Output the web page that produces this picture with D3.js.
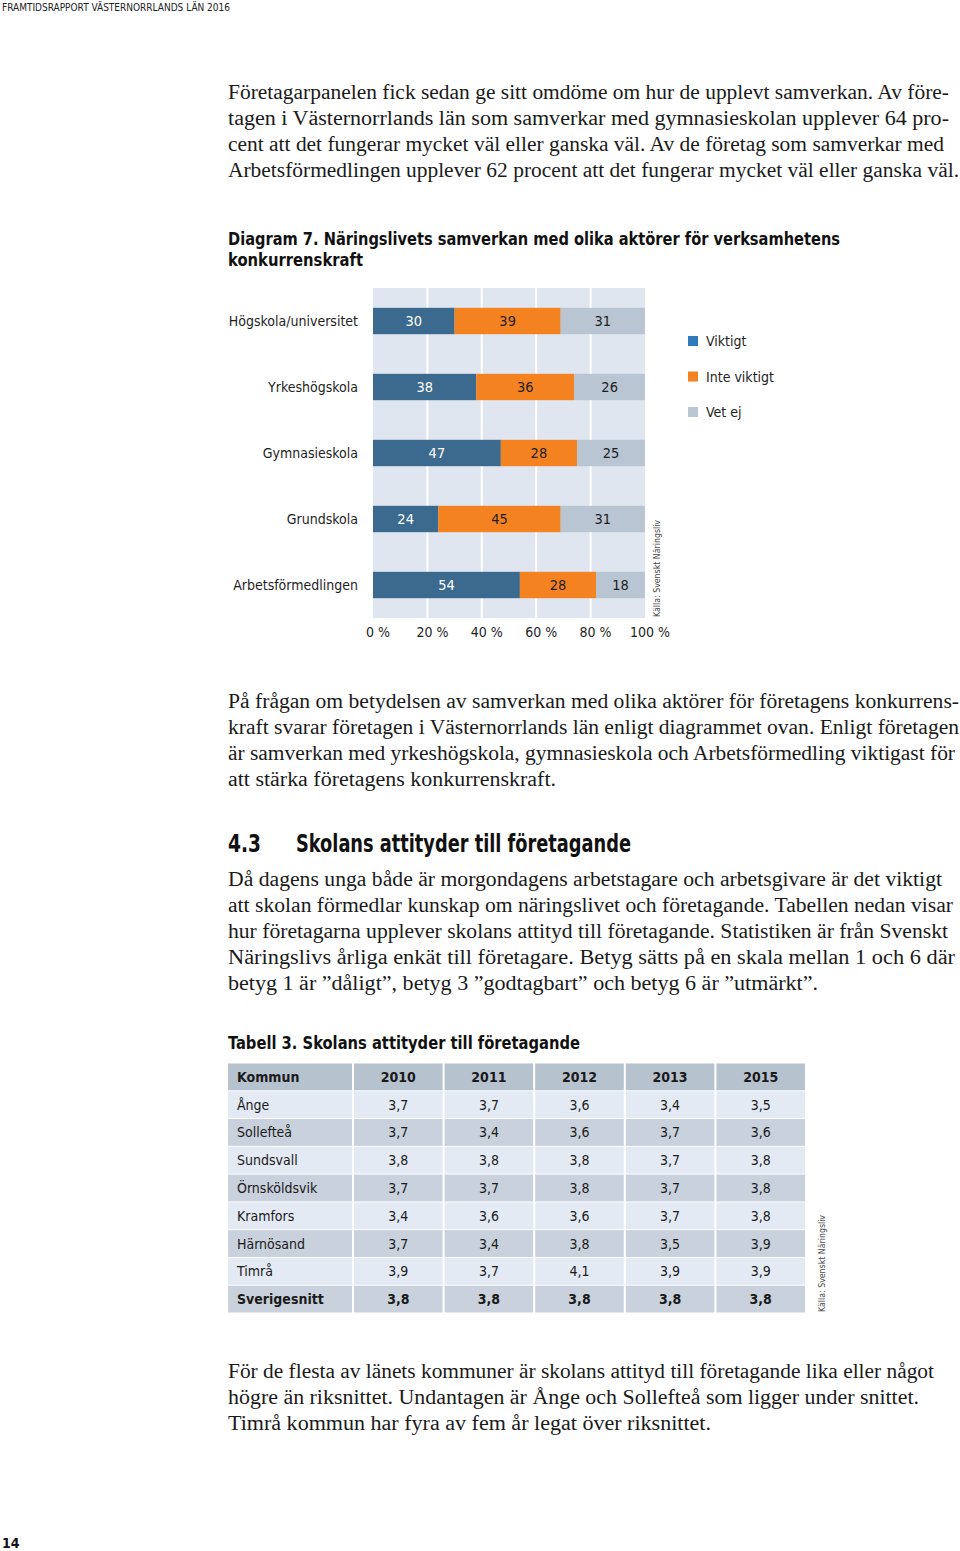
<!DOCTYPE html>
<html><head><meta charset="utf-8">
<script src="https://cdn.jsdelivr.net/npm/d3@7"></script>
<style>
body{margin:0;background:#fff;}
svg{display:block;}
.sans{font-family:"Liberation Sans Narrow","DejaVu Sans Condensed","Roboto",sans-serif;}
.serif{font-family:"Liberation Serif","DejaVu Serif",serif;}
</style></head>
<body>
<script>
// ---------- DATA ----------
const categories = ["Högskola/universitet","Yrkeshögskola","Gymnasieskola","Grundskola","Arbetsförmedlingen"];
const seriesNames = ["Viktigt","Inte viktigt","Vet ej"];
const viktigt     = [30,38,47,24,54];
const inteViktigt = [39,36,28,45,28];
const vetEj       = [31,26,25,31,18];
const xTicks = [0,20,40,60,80,100];
const tickLabels = ["0 %","20 %","40 %","60 %","80 %","100 %"];

const tableHeader = ["Kommun","2010","2011","2012","2013","2015"];
const kommuner = ["Ånge","Sollefteå","Sundsvall","Örnsköldsvik","Kramfors","Härnösand","Timrå","Sverigesnitt"];
const v2010 = ["3,7","3,7","3,8","3,7","3,4","3,7","3,9","3,8"];
const v2011 = ["3,7","3,4","3,8","3,7","3,6","3,4","3,7","3,8"];
const v2012 = ["3,6","3,6","3,8","3,8","3,6","3,8","4,1","3,8"];
const v2013 = ["3,4","3,7","3,7","3,7","3,7","3,5","3,9","3,8"];
const v2015 = ["3,5","3,6","3,8","3,8","3,8","3,9","3,9","3,8"];

const para1 = ["Företagarpanelen fick sedan ge sitt omdöme om hur de upplevt samverkan. Av före-",
"tagen i Västernorrlands län som samverkar med gymnasieskolan upplever 64 pro-",
"cent att det fungerar mycket väl eller ganska väl. Av de företag som samverkar med",
"Arbetsförmedlingen upplever 62 procent att det fungerar mycket väl eller ganska väl."];
const para2 = ["På frågan om betydelsen av samverkan med olika aktörer för företagens konkurrens-",
"kraft svarar företagen i Västernorrlands län enligt diagrammet ovan. Enligt företagen",
"är samverkan med yrkeshögskola, gymnasieskola och Arbetsförmedling viktigast för",
"att stärka företagens konkurrenskraft."];
const para3 = ["Då dagens unga både är morgondagens arbetstagare och arbetsgivare är det viktigt",
"att skolan förmedlar kunskap om näringslivet och företagande. Tabellen nedan visar",
"hur företagarna upplever skolans attityd till företagande. Statistiken är från Svenskt",
"Näringslivs årliga enkät till företagare. Betyg sätts på en skala mellan 1 och 6 där",
"betyg 1 är ”dåligt”, betyg 3 ”godtagbart” och betyg 6 är ”utmärkt”."];
const para4 = ["För de flesta av länets kommuner är skolans attityd till företagande lika eller något",
"högre än riksnittet. Undantagen är Ånge och Sollefteå som ligger under snittet.",
"Timrå kommun har fyra av fem år legat över riksnittet."];

// ---------- STYLE ----------
const barColors = ["#3b6a8e","#f48221","#b9c5d2"];
const legendColors = ["#2f7bbd","#f48221","#b9c5d2"];
const labelColors = ["#ffffff","#1e1e1e","#1e1e1e"];
const W = 960, H = 1551;

const svg = d3.select("body").append("svg").attr("width",W).attr("height",H);

// header
svg.append("text").attr("class","sans").attr("x",2).attr("y",11).attr("font-size",10.5).attr("fill","#222")
  .attr("textLength",228).attr("lengthAdjust","spacingAndGlyphs")
  .text("FRAMTIDSRAPPORT VÄSTERNORRLANDS LÄN 2016");
svg.append("text").attr("class","sans").attr("x",2).attr("y",1548).attr("font-size",14).attr("font-weight","bold").attr("fill","#111").text("14");

function paragraph(lines, y0, widths){
  const g = svg.append("g").attr("class","serif").attr("font-size",20).attr("fill","#1a1a1a");
  lines.forEach((l,i)=>{
    const t = g.append("text").attr("x",228).attr("y",y0+i*26).text(l);
    if(widths && widths[i]) t.attr("textLength",widths[i]).attr("lengthAdjust","spacingAndGlyphs");
  });
}
paragraph(para1, 99, [721,721,716,731]);
paragraph(para2, 708, [731,731,727,328]);
paragraph(para3, 886, [714,725,720,727,590]);
paragraph(para4, 1378, [706,691,483]);

// Diagram title
const tg = svg.append("g").attr("class","sans").attr("font-weight","bold").attr("font-size",18).attr("fill","#111");
tg.append("text").attr("x",228).attr("y",245).attr("textLength",612).attr("lengthAdjust","spacingAndGlyphs")
  .text("Diagram 7. Näringslivets samverkan med olika aktörer för verksamhetens");
tg.append("text").attr("x",228).attr("y",266).attr("textLength",135).attr("lengthAdjust","spacingAndGlyphs")
  .text("konkurrenskraft");

// ---------- CHART ----------
const x = d3.scaleLinear().domain([0,100]).range([373,645]);
const y = d3.scaleBand().domain(categories).range([288,618]).paddingInner(0.6).paddingOuter(0.3);

const chart = svg.append("g").attr("class","sans");
chart.append("rect").attr("x",x(0)).attr("y",288).attr("width",x(100)-x(0)).attr("height",330).attr("fill","#dfe6ef");
chart.selectAll("line.grid").data(xTicks.slice(1,-1)).join("line").attr("class","grid")
  .attr("x1",d=>x(d)).attr("x2",d=>x(d)).attr("y1",288).attr("y2",618).attr("stroke","#fff").attr("stroke-width",2);

const rows = categories.map((c,i)=>({cat:c, vals:[viktigt[i],inteViktigt[i],vetEj[i]]}));
const stack = d3.stack().keys([0,1,2]).value((d,k)=>d.vals[k]);
const stacked = stack(rows);
stacked.forEach((layer,k)=>{
  const g = chart.append("g");
  g.selectAll("rect").data(layer).join("rect")
    .attr("x",d=>x(d[0])).attr("width",d=>x(d[1])-x(d[0]))
    .attr("y",d=>y(d.data.cat)).attr("height",y.bandwidth()).attr("fill",barColors[k]);
  g.selectAll("text").data(layer).join("text")
    .attr("x",d=>(x(d[0])+x(d[1]))/2).attr("y",d=>y(d.data.cat)+y.bandwidth()/2+5)
    .attr("text-anchor","middle").attr("font-size",14.5).attr("fill",labelColors[k])
    .text(d=>d[1]-d[0]);
});

// category labels
chart.selectAll("text.cat").data(categories).join("text").attr("class","cat")
  .attr("x",358).attr("y",d=>y(d)+y.bandwidth()/2+5).attr("text-anchor","end")
  .attr("font-size",14).attr("fill","#1e1e1e").text(d=>d);

// x tick labels
chart.selectAll("text.tick").data(xTicks).join("text").attr("class","tick")
  .attr("x",d=>x(d)+5).attr("y",637).attr("text-anchor","middle")
  .attr("font-size",14).attr("fill","#1e1e1e").text((d,i)=>tickLabels[i]);

// source
chart.append("text").attr("transform","translate(660,617) rotate(-90)").attr("font-size",9.5).attr("fill","#444")
  .attr("textLength",97).attr("lengthAdjust","spacingAndGlyphs")
  .text("Källa: Svenskt Näringsliv");

// legend
const lg = chart.append("g");
seriesNames.forEach((n,i)=>{
  const yy = 341 + i*35.5;
  lg.append("rect").attr("x",688).attr("y",yy-5).attr("width",10).attr("height",10).attr("fill",legendColors[i]);
  lg.append("text").attr("x",706).attr("y",yy+5).attr("font-size",14).attr("fill","#1e1e1e").text(n);
});

// ---------- HEADING ----------
const hg = svg.append("g").attr("class","sans").attr("font-weight","bold").attr("font-size",24).attr("fill","#111");
hg.append("text").attr("x",228).attr("y",852).attr("textLength",33).attr("lengthAdjust","spacingAndGlyphs").text("4.3");
hg.append("text").attr("x",296).attr("y",852).attr("textLength",335).attr("lengthAdjust","spacingAndGlyphs")
  .text("Skolans attityder till företagande");

svg.append("text").attr("class","sans").attr("font-weight","bold").attr("font-size",18).attr("fill","#111")
  .attr("x",228).attr("y",1049).attr("textLength",352).attr("lengthAdjust","spacingAndGlyphs")
  .text("Tabell 3. Skolans attityder till företagande");

// ---------- TABLE ----------
const colEdges = [228,353].concat(d3.range(1,6).map(i=>353+i*90.6));
const tRows = [tableHeader].concat(kommuner.map((k,i)=>[k,v2010[i],v2011[i],v2012[i],v2013[i],v2015[i]]));
const ty = d3.scaleBand().domain(d3.range(tRows.length)).range([1063,1313]);
const tg2 = svg.append("g").attr("class","sans");
tRows.forEach((r,ri)=>{
  const dark = ri%2===0;
  const bold = ri===0 || ri===tRows.length-1;
  r.forEach((cell,ci)=>{
    const x0 = colEdges[ci], x1 = colEdges[ci+1];
    tg2.append("rect").attr("x",x0+(ci>0?1:0)).attr("y",ty(ri)+0.5)
      .attr("width",x1-x0-(ci>0?1:0)-1).attr("height",ty.bandwidth()-1)
      .attr("fill", ri===0 ? "#b7c2cf" : (dark ? "#c8d1dc" : "#e3eaf4"));
    tg2.append("text")
      .attr("x", ci===0 ? 237 : (x0+x1)/2)
      .attr("text-anchor", ci===0 ? "start" : "middle")
      .attr("y", ty(ri)+ty.bandwidth()/2+5)
      .attr("font-size",14).attr("font-weight",bold?"bold":"normal").attr("fill","#1a1a1a")
      .text(cell);
  });
});
svg.append("text").attr("class","sans").attr("transform","translate(825,1312) rotate(-90)").attr("font-size",9.5).attr("fill","#444")
  .attr("textLength",97).attr("lengthAdjust","spacingAndGlyphs")
  .text("Källa: Svenskt Näringsliv");
</script>
</body></html>
